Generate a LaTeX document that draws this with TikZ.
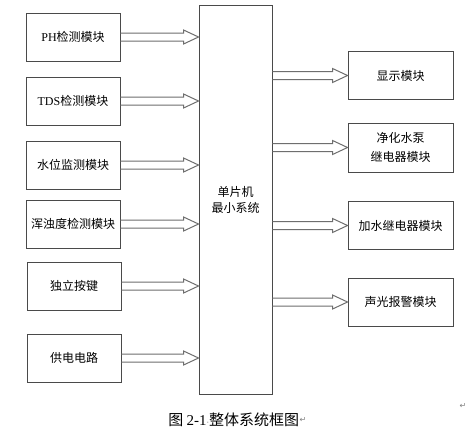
\documentclass[tikz,border=0pt]{standalone}
\usepackage{fontspec}
\setmainfont{Liberation Serif}
\newfontfamily\cjk{Noto Sans CJK SC}
\newfontfamily\dejavu{DejaVu Sans}
\usetikzlibrary{calc}
\definecolor{boxline}{HTML}{4A4A4A}
\definecolor{arrline}{HTML}{6E6E6E}
\newcommand\fatarrow[2]{%
  \draw[fat] let \p1=(#1), \p2=(#2) in
  (\x1,\y1+3pt) -- (\x2-11.25pt,\y1+3pt) -- (\x2-11.25pt,\y1+5.25pt) -- (\x2,\y1)
  -- (\x2-11.25pt,\y1-5.25pt) -- (\x2-11.25pt,\y1-3pt) -- (\x1,\y1-3pt);}
\begin{document}
\begin{tikzpicture}[x=0.75pt,y=-0.75pt,
  blk/.style={draw=boxline,line width=0.7pt,inner sep=0pt,align=center,
    font=\cjk\fontsize{9}{14}\selectfont,text=black},
  lbox/.style={blk,minimum width=70.5pt,minimum height=36pt},
  rbox/.style={blk,minimum width=78.75pt,minimum height=35.5pt},
  fat/.style={draw=arrline,line width=0.75pt,line join=miter},
  pmark/.style={font=\dejavu\fontsize{6}{6}\selectfont,text=gray,inner sep=0pt}]
\useasboundingbox (0,0) rectangle (470,439);
\fill[white] (0,0) rectangle (470,439);
% left modules
\node[lbox] (ph)  at (73,37)  {{\rmfamily PH}检测模块};
\node[lbox] (tds) at (73,101) {{\rmfamily TDS}检测模块};
\node[lbox] (sw)  at (73,165) {水位监测模块};
\node[lbox] (hz)  at (73,224) {浑浊度检测模块};
\node[lbox] (aj)  at (74,286) {独立按键};
\node[lbox] (gd)  at (74,358) {供电电路};
% MCU
\node[blk,minimum width=54.75pt,minimum height=291.75pt,
  font=\cjk\fontsize{9}{12}\selectfont] (mcu) at (235.5,199.5) {单片机\\最小系统};
% right modules
\node[rbox] (xs) at (400.5,75.5)  {显示模块};
\node[rbox,minimum height=36.75pt] (jh) at (400.5,147.5) {净化水泵\\继电器模块};
\node[rbox] (js) at (400.5,225.5) {加水继电器模块};
\node[rbox,minimum height=36pt] (sg) at (400.5,302) {声光报警模块};
% arrows
\foreach \nm in {ph,tds,sw,hz,aj,gd} {\fatarrow{\nm.east}{mcu.west |- \nm.east}}
\foreach \nm in {xs,jh,js,sg} {\fatarrow{mcu.east |- \nm.west}{\nm.west}}
% caption
\node[anchor=west,inner sep=0pt,font=\cjk\fontsize{11.25}{12}\selectfont] (cap) at (168,420)
  {图 {\rmfamily 2-1}{\color{gray}\fontsize{6}{6}\selectfont\dejavu ·}整体系统框图};
\node[pmark,anchor=west] (m1) at (cap.east) {↵};
\node[pmark] (m2) at (463,406) {↵};
\end{tikzpicture}
\end{document}
